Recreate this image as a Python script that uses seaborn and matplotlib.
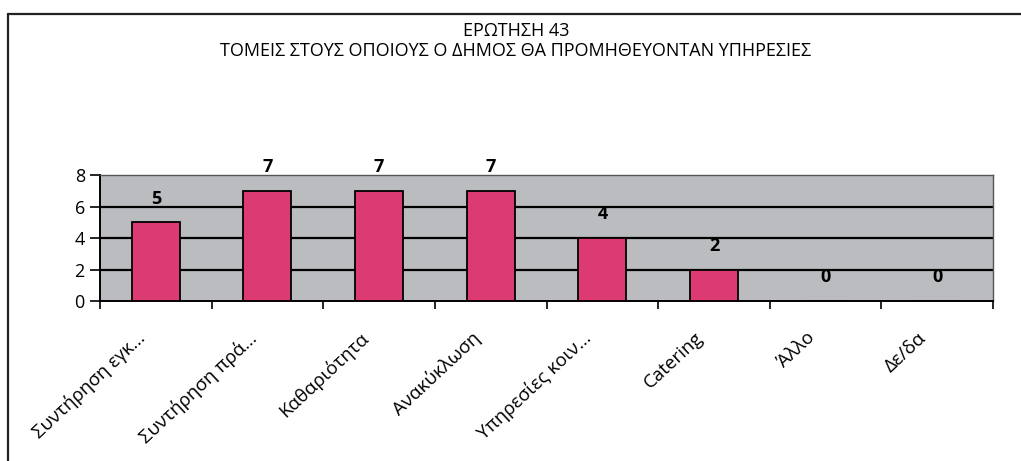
"""
Question 43 bar chart
"""

import matplotlib.pyplot as plt
import matplotlib.transforms as mtransforms
from matplotlib.lines import Line2D
import seaborn as sns
import pandas as pd

categories = ["Συντήρηση εγκ...", "Συντήρηση πρά...", "Καθαριότητα", "Ανακύκλωση",
              "Υπηρεσίες κοιν...", "Catering", "Άλλο", "Δε/δα"]
values = [5, 7, 7, 7, 4, 2, 0, 0]
yticks = [0, 2, 4, 6, 8]
title_1 = "ΕΡΩΤΗΣΗ 43"
title_2 = "ΤΟΜΕΙΣ ΣΤΟΥΣ ΟΠΟΙΟΥΣ Ο ΔΗΜΟΣ ΘΑ ΠΡΟΜΗΘΕΥΟΝΤΑΝ ΥΠΗΡΕΣΙΕΣ"

sns.set_style("white")
plt.rcParams['font.family'] = ['Open Sans', 'DejaVu Sans']
plt.rcParams['text.color'] = "black"
plt.rcParams['xtick.color'] = "black"
plt.rcParams['ytick.color'] = "black"

df = pd.DataFrame({"Category": categories, "Value": values})

fig = plt.figure(figsize=(10.21, 4.61), dpi=100)
ax = fig.add_axes([0.098, 0.347, 0.8746, 0.2734])
ax.set_facecolor("#bbbcc0")

sns.barplot(data=df, x="Category", y="Value", color="#dc3a72", saturation=1,
            width=0.43, edgecolor="black", linewidth=1.3, ax=ax, zorder=3)

ax.set_xlim(-0.5, len(categories) - 0.5)
ax.set_ylim(0, 8)
ax.set_yticks(yticks)
ax.tick_params(axis='y', labelsize=13, length=7, width=1.2, color="black", pad=4, left=True)
for y in yticks[1:-1]:
    ax.axhline(y, color="black", linewidth=1.6, zorder=2)

# category boundaries get the tick marks, centres get the labels
ax.set_xticks([i - 0.5 for i in range(len(categories) + 1)])
ax.set_xticklabels([])
ax.tick_params(axis='x', which='major', length=6, width=1.2, color="black", bottom=True)
ax.set_xticks(range(len(categories)), minor=True)
ax.set_xticklabels(categories, minor=True, rotation=43, ha='right', va='top',
                   rotation_mode='anchor', fontsize=13.5)
ax.tick_params(axis='x', which='minor', length=0, pad=20)
shift = mtransforms.ScaledTranslation(-20 / 100, 0, fig.dpi_scale_trans)
for lbl in ax.get_xticklabels(minor=True):
    lbl.set_transform(lbl.get_transform() + shift)
ax.set_xlabel("")
ax.set_ylabel("")

for side in ["left", "bottom"]:
    ax.spines[side].set_color("black")
    ax.spines[side].set_linewidth(1.4)
for side in ["top", "right"]:
    ax.spines[side].set_color("#555555")
    ax.spines[side].set_linewidth(1.0)

for i, v in enumerate(values):
    ax.annotate(str(v), xy=(i, v), xytext=(0, 17), textcoords="offset points",
                ha="center", va="center", fontsize=13, fontweight="bold",
                annotation_clip=False)

fig.text(0.506, 1 - 31 / 461, title_1, ha="center", va="center", fontsize=13)
fig.text(0.505, 1 - 51 / 461, title_2, ha="center", va="center", fontsize=13)

# outer frame of the scanned page
fig.add_artist(Line2D([8 / 1021, 1], [1 - 14 / 461, 1 - 14 / 461], color="#222222", linewidth=1.6))
fig.add_artist(Line2D([8 / 1021, 8 / 1021], [0, 1 - 14 / 461], color="#222222", linewidth=1.6))

plt.savefig("out.png", dpi=100)
